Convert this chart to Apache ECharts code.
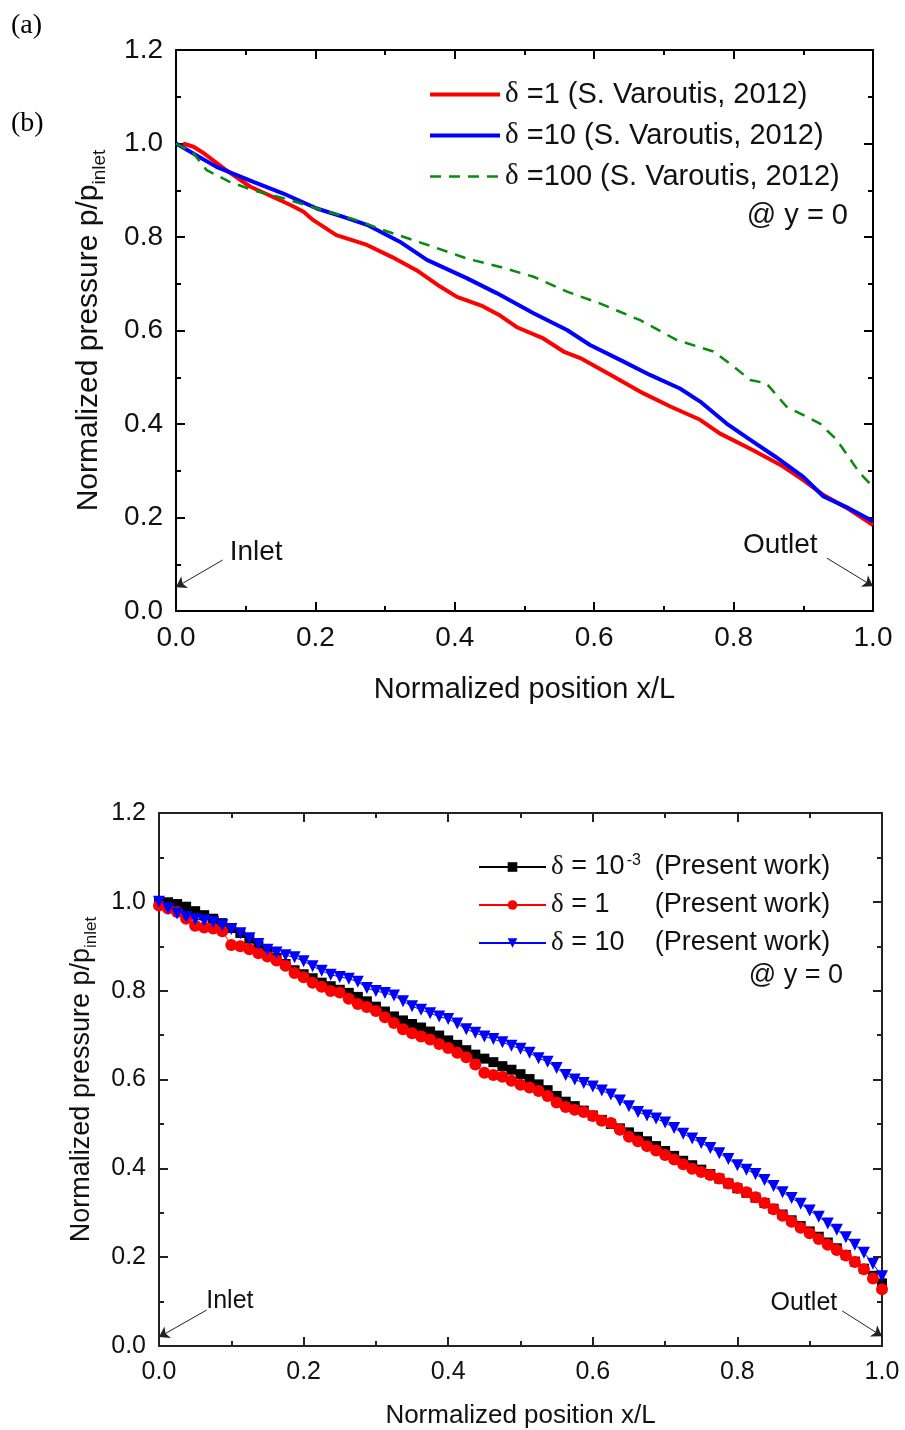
<!DOCTYPE html>
<html><head><meta charset="utf-8">
<script src="https://cdn.jsdelivr.net/npm/echarts@6/dist/echarts.min.js"></script>
<style>html,body{margin:0;padding:0;background:#fff}#c{width:905px;height:1430px}</style>
</head><body><div id="c"></div>
<script>
// ---------- Panel (a): S. Varoutis, 2012 ----------
const varoutisD1 = [[0.01,1.0],[0.025,0.993],[0.04,0.979],[0.07,0.945],[0.106,0.908],[0.14,0.885],[0.165,0.868],[0.183,0.854],[0.197,0.836],[0.23,0.804],[0.274,0.783],[0.31,0.757],[0.345,0.729],[0.379,0.694],[0.403,0.672],[0.44,0.652],[0.465,0.632],[0.489,0.607],[0.527,0.583],[0.556,0.555],[0.58,0.541],[0.62,0.508],[0.67,0.466],[0.71,0.437],[0.752,0.409],[0.78,0.38],[0.828,0.344],[0.87,0.31],[0.9,0.28],[0.929,0.248],[0.965,0.218],[1.0,0.184]];
const varoutisD10 = [[0,1.0],[0.058,0.95],[0.111,0.918],[0.154,0.893],[0.202,0.861],[0.24,0.843],[0.274,0.826],[0.321,0.79],[0.36,0.751],[0.417,0.712],[0.46,0.68],[0.513,0.637],[0.561,0.601],[0.594,0.569],[0.64,0.535],[0.68,0.505],[0.723,0.476],[0.752,0.448],[0.79,0.401],[0.824,0.366],[0.86,0.33],[0.9,0.287],[0.929,0.245],[0.965,0.22],[1.0,0.192]];
const varoutisD100 = [[0,1.0],[0.025,0.979],[0.044,0.943],[0.077,0.918],[0.111,0.9],[0.154,0.883],[0.202,0.861],[0.259,0.836],[0.297,0.815],[0.369,0.779],[0.417,0.754],[0.465,0.736],[0.513,0.715],[0.561,0.683],[0.608,0.658],[0.666,0.622],[0.718,0.58],[0.771,0.555],[0.8,0.523],[0.824,0.494],[0.847,0.487],[0.876,0.437],[0.924,0.401],[0.948,0.366],[0.981,0.295],[1.0,0.266]];
const namesA = ['δ =1 (S. Varoutis, 2012)','δ =10 (S. Varoutis, 2012)','δ =100 (S. Varoutis, 2012)'];

// ---------- Panel (b): Present work ----------
const xPresent = [0,0.0125,0.025,0.0375,0.05,0.0625,0.075,0.0875,0.1,0.1125,0.125,0.1375,0.15,0.1625,0.175,0.1875,0.2,0.2125,0.225,0.2375,0.25,0.2625,0.275,0.2875,0.3,0.3125,0.325,0.3375,0.35,0.3625,0.375,0.3875,0.4,0.4125,0.425,0.4375,0.45,0.4625,0.475,0.4875,0.5,0.5125,0.525,0.5375,0.55,0.5625,0.575,0.5875,0.6,0.6125,0.625,0.6375,0.65,0.6625,0.675,0.6875,0.7,0.7125,0.725,0.7375,0.75,0.7625,0.775,0.7875,0.8,0.8125,0.825,0.8375,0.85,0.8625,0.875,0.8875,0.9,0.9125,0.925,0.9375,0.95,0.9625,0.975,0.9875,1.0];
const presentDm3 = [1.000,0.999,0.995,0.989,0.979,0.970,0.962,0.952,0.941,0.930,0.917,0.901,0.888,0.874,0.860,0.846,0.837,0.828,0.818,0.810,0.802,0.795,0.786,0.776,0.764,0.753,0.742,0.733,0.725,0.717,0.708,0.699,0.688,0.678,0.666,0.656,0.647,0.639,0.630,0.622,0.612,0.601,0.589,0.576,0.563,0.550,0.540,0.530,0.519,0.509,0.500,0.490,0.481,0.471,0.461,0.450,0.439,0.428,0.417,0.407,0.397,0.387,0.377,0.366,0.355,0.345,0.334,0.322,0.309,0.296,0.283,0.270,0.258,0.246,0.233,0.220,0.205,0.190,0.174,0.158,0.141];
const presentD1 = [0.992,0.985,0.977,0.962,0.946,0.942,0.940,0.934,0.903,0.900,0.893,0.884,0.877,0.868,0.856,0.840,0.830,0.818,0.809,0.799,0.796,0.782,0.770,0.763,0.754,0.740,0.727,0.713,0.704,0.697,0.690,0.680,0.671,0.660,0.650,0.634,0.615,0.610,0.606,0.597,0.588,0.582,0.574,0.563,0.548,0.538,0.532,0.527,0.518,0.507,0.502,0.487,0.471,0.461,0.450,0.440,0.430,0.420,0.409,0.399,0.392,0.385,0.377,0.366,0.356,0.346,0.335,0.322,0.308,0.293,0.280,0.266,0.254,0.241,0.228,0.216,0.204,0.189,0.173,0.152,0.128];
const presentD10 = [1.000,0.985,0.974,0.966,0.961,0.958,0.954,0.947,0.939,0.929,0.918,0.905,0.892,0.886,0.880,0.875,0.866,0.855,0.845,0.836,0.831,0.827,0.820,0.806,0.799,0.795,0.789,0.776,0.765,0.757,0.749,0.742,0.736,0.726,0.713,0.705,0.697,0.691,0.684,0.676,0.669,0.660,0.648,0.640,0.626,0.610,0.600,0.592,0.584,0.575,0.566,0.553,0.540,0.527,0.519,0.512,0.503,0.491,0.478,0.467,0.457,0.446,0.434,0.421,0.407,0.397,0.387,0.374,0.360,0.346,0.333,0.320,0.305,0.291,0.276,0.262,0.245,0.228,0.210,0.185,0.157];
const namesB = ['δ = 10^-3 (Present work)','δ = 1 (Present work)','δ = 10 (Present work)'];

// annotation anchors in data units: [textX, textY, tailX, tailY, tipX, tipY]
const annotA = {Inlet:[0.115,0.126,0.067,0.109,0.0,0.051], Outlet:[0.867,0.141,0.934,0.113,1.0,0.053]};
const annotB = {Inlet:[0.098,0.101,0.066,0.081,0.0,0.02], Outlet:[0.892,0.097,0.945,0.079,1.0,0.022]};

const FONT = 'Liberation Sans';
const SERIF = 'Liberation Serif';
const pair = (xs, ys) => xs.map((x, i) => [x, ys[i]]);

function axisX(grid, pos, show, fs, color, name, gap, margin, nfs) {
  return {
    gridIndex: grid, type: 'value', min: 0, max: 1, interval: 0.2, position: pos,
    axisLine: {onZero: false, lineStyle: {color: color, width: 2}},
    axisTick: {inside: true, length: 9, lineStyle: {color: color, width: 2}},
    minorTick: {show: true, splitNumber: 2, length: 5, lineStyle: {color: color, width: 2}},
    splitLine: {show: false},
    axisLabel: {show: show, formatter: v => v.toFixed(1), fontSize: fs, fontFamily: FONT, color: '#111', margin: margin},
    name: show ? name : '', nameLocation: 'middle', nameGap: gap,
    nameTextStyle: {fontSize: nfs, fontFamily: FONT, color: '#111'}
  };
}
function axisY(grid, pos, show, fs, color, gap, nfs, subFs) {
  return {
    gridIndex: grid, type: 'value', min: 0, max: 1.2, interval: 0.2, position: pos,
    axisLine: {onZero: false, lineStyle: {color: color, width: 2}},
    axisTick: {inside: true, length: 9, lineStyle: {color: color, width: 2}},
    minorTick: {show: true, splitNumber: 2, length: 5, lineStyle: {color: color, width: 2}},
    splitLine: {show: false},
    axisLabel: {show: show, formatter: v => v.toFixed(1), fontSize: fs, fontFamily: FONT, color: '#111', margin: 13},
    name: show ? 'Normalized pressure p/p{sub|inlet}' : '', nameLocation: 'middle', nameGap: gap, nameRotate: 90,
    nameTextStyle: {fontSize: nfs, fontFamily: FONT, color: '#111', lineHeight: nfs + 10,
      rich: {sub: {fontSize: subFs, fontFamily: FONT, color: '#111', verticalAlign: 'bottom', lineHeight: subFs}}}
  };
}
function annot(obj, fs) {
  const lines = [], pts = [];
  Object.keys(obj).forEach(k => {
    const a = obj[k];
    pts.push({name: k, coord: [a[0], a[1]]});
    lines.push([{coord: [a[2], a[3]]}, {coord: [a[4], a[5]]}]);
  });
  return {
    clip: false,
    markLine: {silent: true, symbol: ['none', 'arrow'], symbolSize: 10, label: {show: false},
      lineStyle: {color: '#222', width: 1, type: 'solid'}, emphasis: {disabled: true}, data: lines},
    markPoint: {silent: true, symbol: 'circle', symbolSize: 0,
      label: {show: true, position: 'inside', formatter: '{b}', fontSize: fs, fontFamily: FONT, color: '#111'}, data: pts}
  };
}

const chart = echarts.init(document.getElementById('c'), null, {renderer: 'canvas'});
const annA = annot(annotA, 28), annB = annot(annotB, 25);

const option = {
  animation: false,
  backgroundColor: '#fff',
  grid: [
    {left: 176, right: 32, top: 50, bottom: 819},
    {left: 159, right: 23, top: 813, bottom: 83}
  ],
  xAxis: [
    axisX(0, 'bottom', true, 28, '#000', 'Normalized position x/L', 64, 13, 29),
    axisX(0, 'top', false, 28, '#000', '', 0, 13, 29),
    axisX(1, 'bottom', true, 25, '#222', 'Normalized position x/L', 57, 14, 26),
    axisX(1, 'top', false, 25, '#222', '', 0, 14, 26)
  ],
  yAxis: [
    axisY(0, 'left', true, 28, '#000', 67, 30, 19),
    axisY(0, 'right', false, 28, '#000', 0, 30, 19),
    axisY(1, 'left', true, 25, '#222', 59, 27, 17),
    axisY(1, 'right', false, 25, '#222', 0, 27, 17)
  ],
  legend: [
    {
      orient: 'vertical', left: 423, top: 75, itemWidth: 70, itemHeight: 14, itemGap: 12,
      data: [
        {name: namesA[0], itemStyle: {opacity: 0}, lineStyle: {width: 4, color: '#ff0000'}},
        {name: namesA[1], itemStyle: {opacity: 0}, lineStyle: {width: 4, color: '#0000ff'}},
        {name: namesA[2], itemStyle: {opacity: 0}, lineStyle: {width: 2.5, color: '#0a8a0a', type: [11, 8]}}
      ],
      textStyle: {fontSize: 29, fontFamily: FONT, color: '#111', rich: {g: {fontSize: 29, fontFamily: SERIF, color: '#111'}}},
      formatter: n => n.replace('δ', '{g|δ}')
    },
    {
      orient: 'vertical', left: 473, top: 848, itemWidth: 67, itemHeight: 12, itemGap: 10,
      data: namesB,
      textStyle: {fontSize: 27, fontFamily: FONT, color: '#111', lineHeight: 28,
        rich: {
          g: {fontSize: 27, fontFamily: SERIF, color: '#111'},
          a1: {fontSize: 27, fontFamily: FONT, color: '#111', width: 63},
          sup: {fontSize: 16, fontFamily: FONT, color: '#111', width: 28, verticalAlign: 'top', lineHeight: 14},
          a: {fontSize: 27, fontFamily: FONT, color: '#111', width: 91},
          p: {fontSize: 27, fontFamily: FONT, color: '#111'}
        }},
      formatter: n => {
        if (n === namesB[0]) return '{g|δ}{a1| = 10}{sup|-3}{p|(Present work)}';
        if (n === namesB[1]) return '{g|δ}{a| = 1}{p|(Present work)}';
        return '{g|δ}{a| = 10}{p|(Present work)}';
      }
    }
  ],
  graphic: [
    {type: 'text', left: 11, top: 12, style: {text: '(a)', font: '28px "Liberation Serif"', fill: '#000'}},
    {type: 'text', left: 11, top: 110, style: {text: '(b)', font: '28px "Liberation Serif"', fill: '#000'}},
    {type: 'text', right: 57, top: 201, style: {text: '@ y = 0', font: '29px "Liberation Sans"', fill: '#111'}},
    {type: 'text', right: 62, top: 962, style: {text: '@ y = 0', font: '27px "Liberation Sans"', fill: '#111'}}
  ],
  series: [
    Object.assign({name: namesA[0], type: 'line', xAxisIndex: 0, yAxisIndex: 0, data: varoutisD1, symbol: 'none',
      lineStyle: {color: '#ff0000', width: 4}, itemStyle: {color: '#ff0000'}}, annA),
    {name: namesA[1], type: 'line', xAxisIndex: 0, yAxisIndex: 0, data: varoutisD10, symbol: 'none',
      lineStyle: {color: '#0000ff', width: 4}, itemStyle: {color: '#0000ff'}},
    {name: namesA[2], type: 'line', xAxisIndex: 0, yAxisIndex: 0, data: varoutisD100, symbol: 'none',
      lineStyle: {color: '#0a8a0a', width: 2.5, type: [11, 8]}, itemStyle: {color: '#0a8a0a'}},
    Object.assign({name: namesB[0], type: 'line', xAxisIndex: 2, yAxisIndex: 2, data: pair(xPresent, presentDm3),
      symbol: 'rect', symbolSize: 10, showAllSymbol: true,
      lineStyle: {color: '#000', width: 1}, itemStyle: {color: '#000'}}, annB),
    {name: namesB[1], type: 'line', xAxisIndex: 2, yAxisIndex: 2, data: pair(xPresent, presentD1),
      symbol: 'circle', symbolSize: 12, showAllSymbol: true,
      lineStyle: {color: '#ff0000', width: 1}, itemStyle: {color: '#ff0000'}},
    {name: namesB[2], type: 'line', xAxisIndex: 2, yAxisIndex: 2, data: pair(xPresent, presentD10),
      symbol: 'triangle', symbolRotate: 180, symbolSize: 12, showAllSymbol: true,
      lineStyle: {color: '#0000ff', width: 1}, itemStyle: {color: '#0000ff'}}
  ]
};
chart.setOption(option);
</script></body></html>
